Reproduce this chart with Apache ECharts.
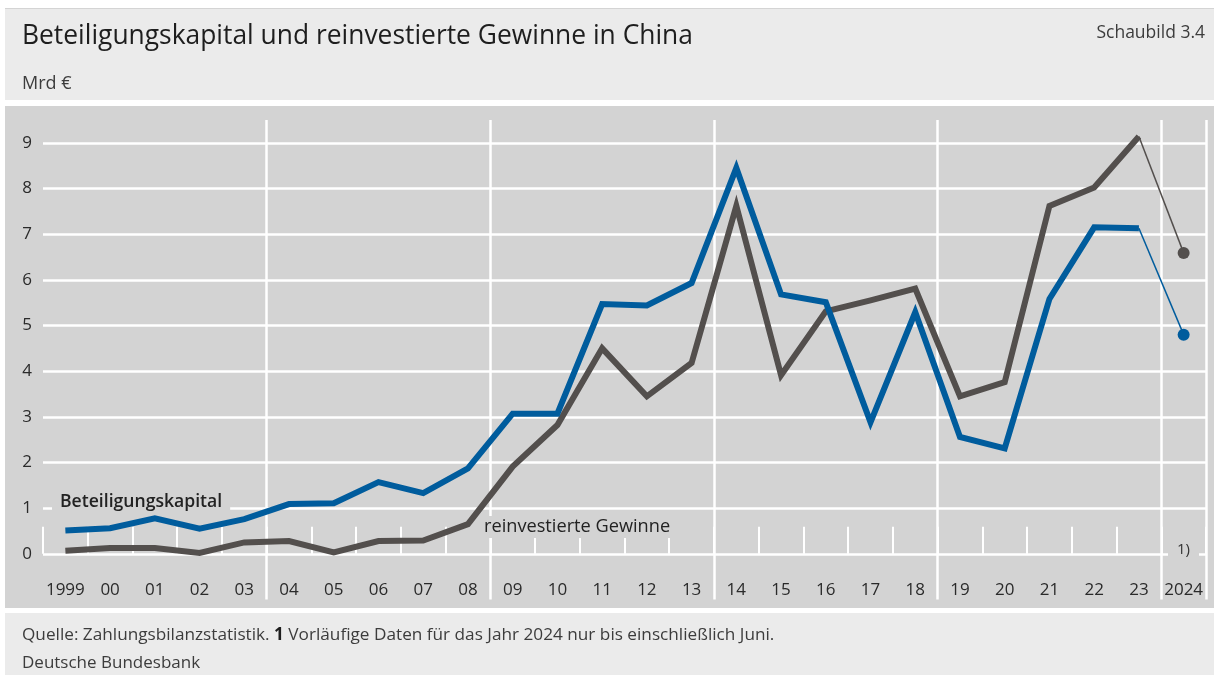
<!DOCTYPE html>
<html>
<head>
<meta charset="utf-8">
<script src="https://cdn.jsdelivr.net/npm/echarts@6/dist/echarts.min.js"></script>
<style>
  html, body { margin: 0; padding: 0; background: #fff; }
  #chart { width: 1214px; height: 675px; }
</style>
</head>
<body>
<div id="chart"></div>
<script>
// Jahre (x-Achse)
const years = ['1999', '00', '01', '02', '03', '04', '05', '06', '07', '08', '09', '10', '11', '12', '13',
  '14', '15', '16', '17', '18', '19', '20', '21', '22', '23', '2024']
// Beteiligungskapital, Mrd €
const beteiligung = [0.51, 0.56, 0.78, 0.55, 0.76, 1.09, 1.11, 1.57, 1.33, 1.87, 3.07, 3.07, 5.47, 5.44, 5.93,
  8.45, 5.68, 5.51, 2.88, 5.29, 2.56, 2.31, 5.58, 7.15, 7.13, 4.80]
// reinvestierte Gewinne, Mrd €
const gewinne = [0.07, 0.13, 0.13, 0.02, 0.25, 0.28, 0.03, 0.28, 0.29, 0.65, 1.91, 2.82, 4.50, 3.45, 4.18,
  7.62, 3.91, 5.31, 5.55, 5.81, 3.45, 3.76, 7.62, 8.02, 9.14, 6.59]
// y-Achse
const yTicks = [0, 1, 2, 3, 4, 5, 6, 7, 8, 9]

const blue = '#005c9d'
const grey = '#534f4d'
const font = '"Open Sans", "Noto Sans", sans-serif'

// bis 2023 dicke Linie, 2024 (vorläufig) dünne Linie mit Punkt
function mainPart (arr) {
  return arr.map((v, i) => (i < arr.length - 1 ? v : '-'))
}
function lastPart (arr) {
  const n = arr.length
  return arr.map((v, i) => {
    if (i === n - 1) return { value: v, symbol: 'circle', symbolSize: 12 }
    if (i === n - 2) return { value: v, symbol: 'none' }
    return '-'
  })
}

const myChart = echarts.init(document.getElementById('chart'))

const option = {
  animation: false,
  textStyle: { fontFamily: font },
  graphic: [
    // Kopf
    { type: 'rect', z: -10, shape: { x: 5, y: 8, width: 1209, height: 92 }, style: { fill: '#ebebeb' } },
    { type: 'rect', z: -10, shape: { x: 5, y: 8, width: 1209, height: 1 }, style: { fill: '#d4d4d4' } },
    // Diagrammfläche
    { type: 'rect', z: -10, shape: { x: 5, y: 106, width: 1209, height: 502 }, style: { fill: '#d3d3d3' } },
    // Fuß
    { type: 'rect', z: -10, shape: { x: 5, y: 613, width: 1209, height: 62 }, style: { fill: '#ebebeb' } },
    {
      type: 'text', left: 22, top: 23,
      style: { text: 'Beteiligungskapital und reinvestierte Gewinne in China', fill: '#1e1e1e', font: '26.4px ' + font }
    },
    {
      type: 'text', right: 9, top: 24,
      style: { text: 'Schaubild 3.4', fill: '#3c3c3c', font: '17.5px ' + font }
    },
    {
      type: 'text', left: 22, top: 75,
      style: { text: 'Mrd €', fill: '#3c3c3c', font: '18px ' + font }
    },
    {
      type: 'text', left: 22, top: 627,
      style: {
        text: '{n|Quelle: Zahlungsbilanzstatistik. }{b|1}{n| Vorläufige Daten für das Jahr 2024 nur bis einschließlich Juni.}',
        rich: {
          n: { fill: '#3c3c3c', font: '17.2px ' + font },
          b: { fill: '#1e1e1e', font: 'bold 17.2px ' + font }
        }
      }
    },
    {
      type: 'text', left: 22, top: 655,
      style: { text: 'Deutsche Bundesbank', fill: '#3c3c3c', font: '17px ' + font }
    },
    // Linienbeschriftungen
    {
      type: 'text', z: 10, left: 52, top: 491,
      style: {
        text: 'Beteiligungskapital', fill: '#222', font: '600 17.6px ' + font,
        backgroundColor: '#d3d3d3', padding: [2, 8, 2, 8]
      }
    },
    {
      type: 'text', z: 10, left: 480, top: 516,
      style: {
        text: 'reinvestierte Gewinne', fill: '#222', font: '18.2px ' + font,
        backgroundColor: '#d3d3d3', padding: [2, 4, 2, 4]
      }
    },
    {
      type: 'text', z: 10, left: 1168, top: 540,
      style: {
        text: '1)', fill: '#333', font: '15px ' + font,
        backgroundColor: '#d3d3d3', padding: [2, 9, 2, 9]
      }
    }
  ],
  grid: {
    left: 43,
    right: 8,
    top: 120,
    bottom: 75.5
  },
  xAxis: {
    type: 'category',
    data: years,
    boundaryGap: true,
    offset: -5,
    axisLine: { show: false },
    axisTick: {
      show: true,
      inside: true,
      length: 27,
      interval: 0,
      lineStyle: { color: '#fff', width: 2 }
    },
    axisLabel: {
      interval: 0,
      margin: -13,
      color: '#2a2a2a',
      fontSize: 17,
      fontFamily: font
    },
    splitLine: {
      show: true,
      interval: function (idx) {
        return idx > 0 && idx < years.length && idx % 5 === 0
      },
      lineStyle: { color: '#fff', width: 2.5 }
    }
  },
  yAxis: {
    type: 'value',
    min: -1,
    max: 9.5,
    interval: 1,
    axisLine: { show: false },
    axisTick: { show: false },
    axisLabel: {
      margin: 11,
      color: '#2a2a2a',
      fontSize: 17,
      fontFamily: font,
      formatter: function (v) {
        return yTicks.indexOf(v) >= 0 ? String(v) : ''
      }
    },
    splitLine: {
      show: true,
      showMinLine: false,
      showMaxLine: false,
      lineStyle: { color: '#fff', width: 2.5 }
    }
  },
  series: [
    {
      name: 'reinvestierte Gewinne',
      type: 'line',
      data: mainPart(gewinne),
      symbol: 'none',
      lineStyle: { color: grey, width: 6, join: 'miter' },
      z: 3
    },
    {
      name: 'reinvestierte Gewinne 2024',
      type: 'line',
      data: lastPart(gewinne),
      itemStyle: { color: grey },
      lineStyle: { color: grey, width: 1.5 },
      z: 3
    },
    {
      name: 'Beteiligungskapital',
      type: 'line',
      data: mainPart(beteiligung),
      symbol: 'none',
      lineStyle: { color: blue, width: 6, join: 'miter' },
      z: 4
    },
    {
      name: 'Beteiligungskapital 2024',
      type: 'line',
      data: lastPart(beteiligung),
      itemStyle: { color: blue },
      lineStyle: { color: blue, width: 1.5 },
      z: 4
    }
  ]
}

myChart.setOption(option)
window.addEventListener('resize', function () {
  myChart.resize()
})
</script>
</body>
</html>
